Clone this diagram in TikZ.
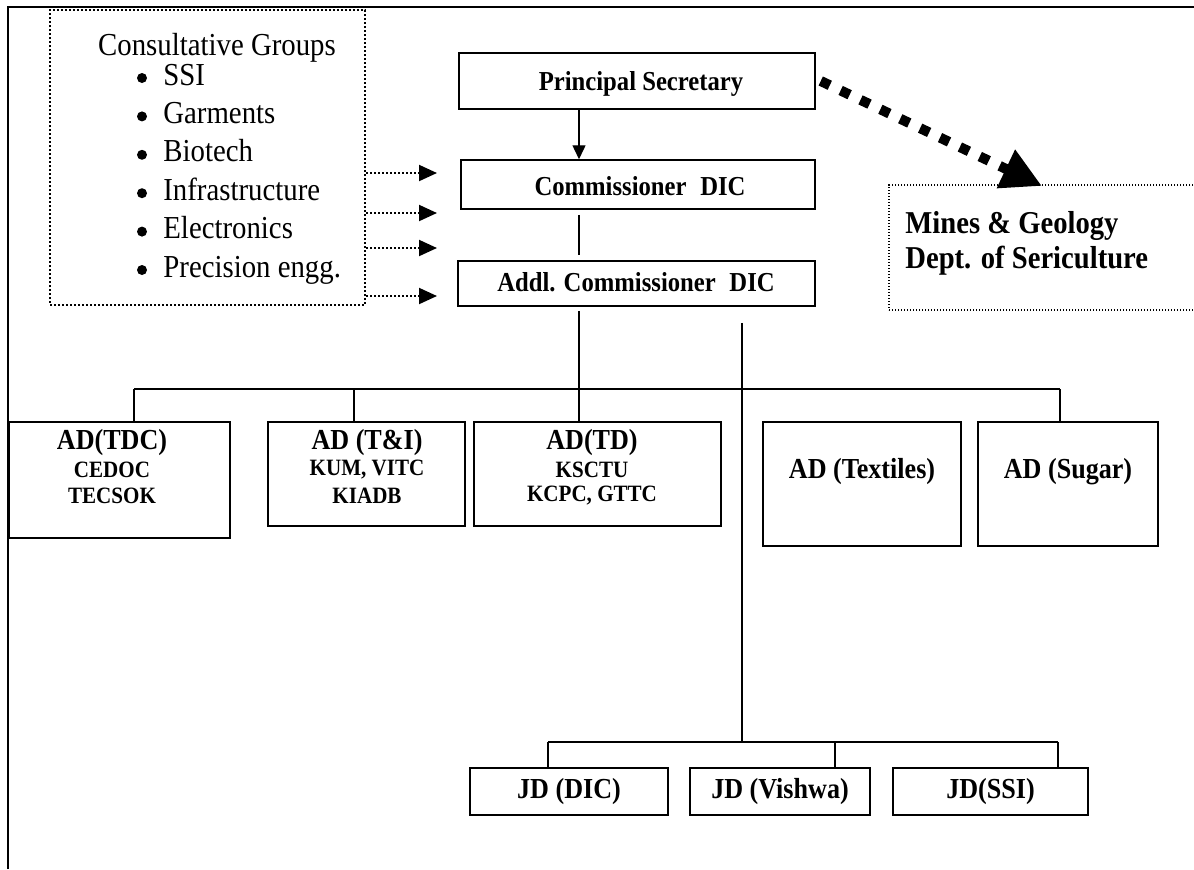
\documentclass[tikz,border=0pt]{standalone}
\usepackage{fontspec}
\setmainfont{Liberation Serif}[FakeStretch=0.9]
\usetikzlibrary{arrows.meta}
\begin{document}
\begin{tikzpicture}[x=0.5pt,y=-0.5pt,
  framerule/.style={line width=1pt},
  wire/.style={line width=0.7pt},
  solidbox/.style={draw, line width=0.75pt, inner sep=0pt},
  dotframe/.style={draw, line width=1pt, dash pattern=on 1pt off 1pt, inner sep=0pt},
  finedots/.style={draw, line width=0.7pt, dash pattern=on 0.7pt off 0.8pt, inner sep=0pt},
  boxlabel/.style={inner sep=0pt, font=\bfseries\fontsize{13.7}{16}\selectfont},
  adhead/.style={inner sep=0pt, font=\bfseries\fontsize{14.5}{17}\selectfont},
  adsub/.style={inner sep=0pt, font=\bfseries\fontsize{11.7}{14}\selectfont},
  listtext/.style={inner sep=0pt, font=\fontsize{16}{19}\selectfont},
  bigtext/.style={inner sep=0pt, align=left, font=\bfseries\fontsize{15.9}{17.5}\selectfont},
  feed/.style={line width=1pt, dash pattern=on 1pt off 1pt, -{Triangle[length=9pt,width=8pt]}},
  pointer/.style={wire, -{Triangle[length=7pt,width=6.5pt]}},
  bigdots/.style={line width=5pt, dash pattern=on 5pt off 6pt, -{Triangle[length=20pt,width=20pt]}}
]
\useasboundingbox (0,0) rectangle (1194,869);

% outer frame (top and left rules)
\draw[framerule] (8,869) -- (8,7) -- (1194,7);

% consultative groups panel
\node[dotframe, minimum width=157.5pt, minimum height=147.5pt] (cg) at (207.5,157.5) {};
\node[listtext, anchor=base] (cgh) at (217,55) {Consultative Groups};
\foreach \t [count=\i] in {SSI,Garments,Biotech,Infrastructure,Electronics,Precision engg.}{
  \fill (142,{85+(\i-1)*38.4-7}) circle[radius=2.5pt];
  \node[listtext, anchor=base west] (cg\i) at (163,{85+(\i-1)*38.4}) {\t};
}

% feeds from the panel
\coordinate (f1) at (437,173);
\coordinate (f2) at (437,213);
\coordinate (f3) at (437,248);
\coordinate (f4) at (437,296);
\foreach \f in {f1,f2,f3,f4}
  \draw[feed] (cg.east |- \f) -- (\f);

% central chain
\node[solidbox, minimum width=178pt, minimum height=28pt] (ps) at (637,81) {};
\node[boxlabel] (psl) at (641,84) {Principal Secretary};
\node[solidbox, minimum width=177pt, minimum height=24.5pt] (cd) at (638,184.5) {};
\node[boxlabel] (cdl) at (640,186) {Commissioner\enspace DIC};
\node[solidbox, minimum width=178.5pt, minimum height=22.5pt] (ac) at (636.5,283.5) {};
\node[boxlabel] (acl) at (636,282) {Addl. Commissioner\enspace DIC};

\coordinate (xa) at (579,0);
\coordinate (xb) at (742,0);
\draw[pointer] (ps.south -| xa) -- (cd.north -| xa);
\draw[wire, shorten <=2.5pt, shorten >=2.5pt] (cd.south -| xa) -- (ac.north -| xa);

% mines & sericulture
\node[finedots, minimum width=158pt, minimum height=62.5pt] (mg) at (1047,247.5) {};
\node[bigtext, anchor=west] (mgl) at (905,243) {Mines \& Geology\\Dept. of Sericulture};
\coordinate (mtip) at (1042,186);
\draw[bigdots] ([xshift=2.5pt]ps.east) -- (mtip);

% assistant directors
\node[solidbox, minimum width=110.5pt, minimum height=58pt] (tdc) at (119.5,480) {};
\node[solidbox, minimum width=98.5pt, minimum height=52pt] (ti) at (366.5,474) {};
\node[solidbox, minimum width=123.5pt, minimum height=52pt] (td) at (597.5,474) {};
\node[solidbox, minimum width=99pt, minimum height=62pt] (tx) at (862,484) {};
\node[solidbox, minimum width=90pt, minimum height=62pt] (sg) at (1068,484) {};

\node[adhead] (tdc1) at (112,443) {AD(TDC)};
\node[adsub] (tdc2) at (112,470) {CEDOC};
\node[adsub] (tdc3) at (112,496) {TECSOK};
\node[adhead] (ti1) at (367,443) {AD (T\&I)};
\node[adsub] (ti2) at (367,470) {KUM, VITC};
\node[adsub] (ti3) at (367,496) {KIADB};
\node[adhead] (td1) at (592,443) {AD(TD)};
\node[adsub] (td2) at (592,470) {KSCTU};
\node[adsub] (td3) at (592,496) {KCPC, GTTC};
\node[adhead] (tx1) at (862,472) {AD (Textiles)};
\node[adhead] (sg1) at (1068,472) {AD (Sugar)};

% bus to the assistant directors
\coordinate (busL) at (134,389);
\coordinate (busT) at (354,389);
\coordinate (busR) at (1060,389);
\draw[wire, shorten <=2pt] (ac.south -| xa) -- (xa |- busL);
\draw[wire] (busL) -- (busR);
\draw[wire] (busL) -- (busL |- tdc.north);
\draw[wire] (busT) -- (busT |- ti.north);
\draw[wire] (xa |- busL) -- (td.north -| xa);
\draw[wire] (busR) -- (busR |- sg.north);

% joint directors
\node[solidbox, minimum width=99pt, minimum height=23.5pt] (jd1) at (569,791.5) {};
\node[solidbox, minimum width=90pt, minimum height=23.5pt] (jd2) at (780,791.5) {};
\node[solidbox, minimum width=97.5pt, minimum height=23.5pt] (jd3) at (990.5,791.5) {};
\node[adhead] (jd1l) at (569,792) {JD (DIC)};
\node[adhead] (jd2l) at (780,792) {JD (Vishwa)};
\node[adhead] (jd3l) at (990.5,792) {JD(SSI)};

\coordinate (jbL) at (548,742);
\coordinate (jbM) at (835,742);
\coordinate (jbR) at (1058,742);
\draw[wire, shorten <=8pt] (ac.south -| xb) -- (xb |- jbL);
\draw[wire] (jbL) -- (jbR);
\draw[wire] (jbL) -- (jbL |- jd1.north);
\draw[wire] (jbM) -- (jbM |- jd2.north);
\draw[wire] (jbR) -- (jbR |- jd3.north);
\end{tikzpicture}
\end{document}
